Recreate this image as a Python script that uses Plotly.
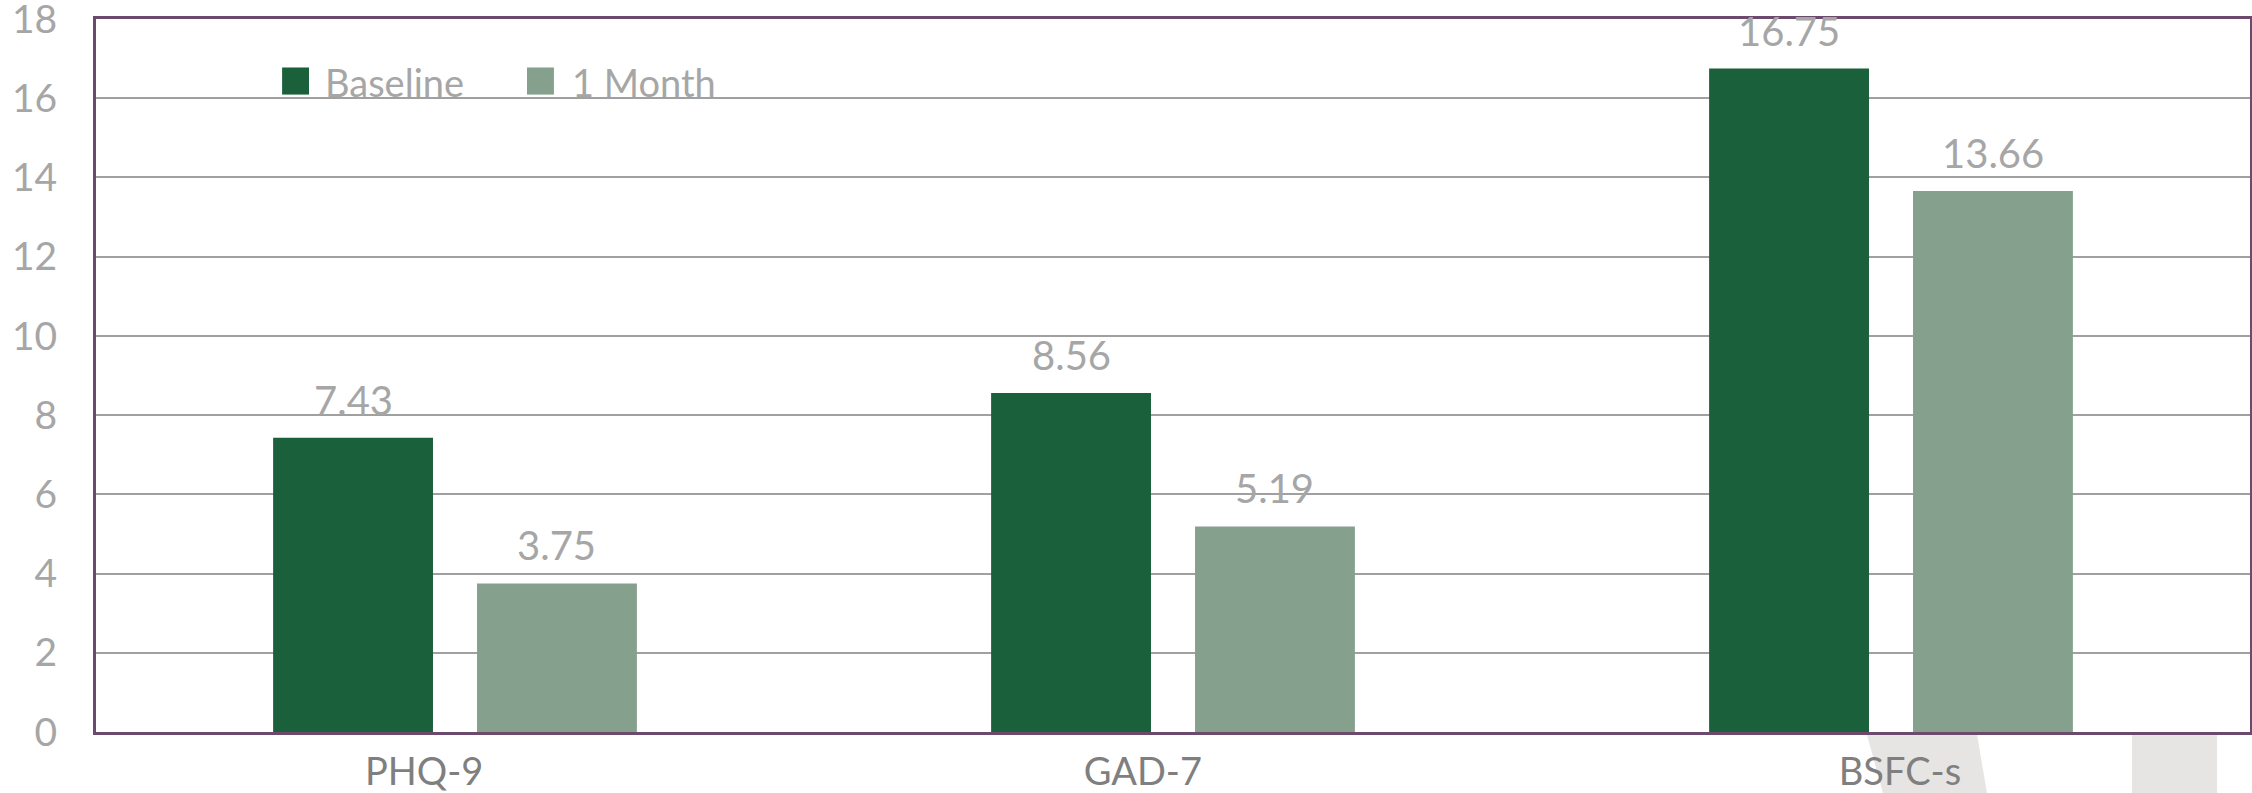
import plotly.graph_objects as go

categories = ["PHQ-9", "GAD-7", "BSFC-s"]
baseline = [7.43, 8.56, 16.75]
one_month = [3.75, 5.19, 13.66]
series_names = ["Baseline", "1 Month"]
y_ticks = [0, 2, 4, 6, 8, 10, 12, 14, 16, 18]

C_BASE = "#1a603a"
C_MONTH = "#86a08e"
LABEL_GREY = "#a6a6a6"
AXIS_GREY = "#7f7f7f"
BORDER = "#6b4a6e"
FONT = "Lato, 'Open Sans', sans-serif"

BARGAP = 0.432
BARGROUPGAP = 0.216
# small horizontal nudges of the category labels, as in the reference
LABEL_NUDGE = [-0.043, -0.042, 0.0125]

x_idx = list(range(len(categories)))

fig = go.Figure()
for name, vals, col in [(series_names[0], baseline, C_BASE), (series_names[1], one_month, C_MONTH)]:
    fig.add_trace(go.Bar(x=x_idx, y=vals, name=name, marker=dict(color=col, line=dict(width=0)),
                         showlegend=False))

# data labels, positioned from bar layout parameters
n = 2
slot = (1 - BARGAP) / n
annotations = []
for k, vals in enumerate([baseline, one_month]):
    off = -(1 - BARGAP) / 2 + (k + 0.5) * slot
    for i, v in enumerate(vals):
        annotations.append(dict(x=i + off, y=v, xref="x", yref="y", text=f"{v:.2f}",
                                showarrow=False, yanchor="bottom", yshift=12,
                                font=dict(family=FONT, size=40, color=LABEL_GREY)))

# legend (manual, large squares)
leg = [(series_names[0], C_BASE, 0.0864, 0.0989, 0.1054), (series_names[1], C_MONTH, 0.2001, 0.2126, 0.2201)]
shapes = []
for name, col, x0, x1, xt in leg:
    shapes.append(dict(type="rect", xref="paper", yref="paper", x0=x0, x1=x1, y0=0.894, y1=0.932,
                       fillcolor=col, line=dict(width=0)))
    annotations.append(dict(x=xt, y=0.912, xref="paper", yref="paper", text=name, showarrow=False,
                            xanchor="left", yanchor="middle",
                            font=dict(family=FONT, size=38, color=LABEL_GREY)))

# light grey artefacts below the axis
shapes.append(dict(type="path", xref="paper", yref="paper", layer="below",
                   path="M 0.8222,-0.0042 L 0.8733,-0.0042 L 0.8779,-0.0856 L 0.8296,-0.0856 Z",
                   fillcolor="#e6e5e4", line=dict(width=0)))
shapes.append(dict(type="rect", xref="paper", yref="paper", layer="below",
                   x0=0.9452, x1=0.9847, y0=-0.0856, y1=-0.0042,
                   fillcolor="#e6e5e4", line=dict(width=0)))

fig.update_layout(
    width=2252, height=793,
    margin=dict(l=96, r=2, t=19, b=61, autoexpand=False),
    paper_bgcolor="white", plot_bgcolor="white",
    barmode="group", bargap=BARGAP, bargroupgap=BARGROUPGAP,
    showlegend=False,
    annotations=annotations, shapes=shapes,
    font=dict(family=FONT),
)
fig.update_xaxes(
    range=[-0.5, len(categories) - 0.5],
    tickvals=[i + d for i, d in zip(x_idx, LABEL_NUDGE)], ticktext=categories, ticks="",
    tickfont=dict(family=FONT, size=38, color=AXIS_GREY),
    showline=True, linecolor=BORDER, linewidth=3, mirror=True,
    showgrid=False, zeroline=False, ticklabelstandoff=4,
    automargin=False, ticklabeloverflow="allow",
)
fig.update_yaxes(
    range=[0, 18], tickvals=y_ticks, ticks="",
    tickfont=dict(family=FONT, size=39, color=LABEL_GREY),
    showline=True, linecolor=BORDER, linewidth=3, mirror=True,
    showgrid=True, gridcolor="#a0a0a0", gridwidth=1.5, zeroline=False,
    ticklabelstandoff=28, automargin=False, ticklabeloverflow="allow",
)

# remove the browser's default 8px page margin so the figure fills the window
fig.write_html("out.html", config={"displayModeBar": False},
               post_script="document.body.style.margin='0';document.body.style.overflow='hidden';")
